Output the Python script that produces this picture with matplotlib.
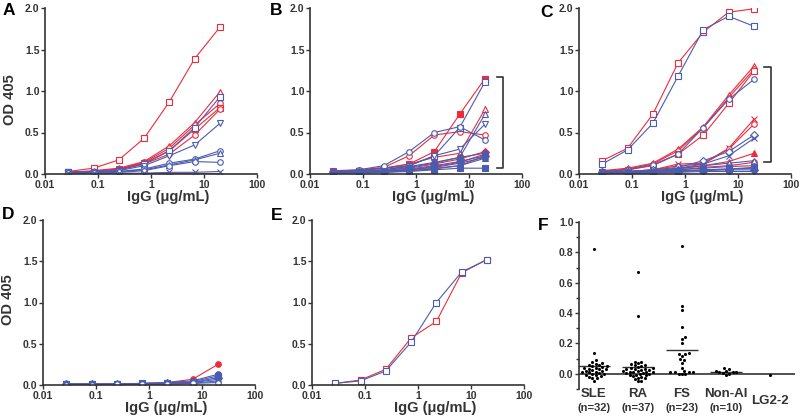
import numpy as np
import matplotlib
matplotlib.use("Agg")
import matplotlib.pyplot as plt
from matplotlib.ticker import FixedLocator, NullLocator
from matplotlib.transforms import blended_transform_factory

plt.rcParams["font.family"] = ["Liberation Sans", "DejaVu Sans"]
plt.rcParams["font.weight"] = "bold"

RED = "#ee2b3b"
BLUE = "#4a5cb0"
DARK = "#333333"

# 3-fold serial dilutions of IgG (ug/mL)
IGG = [0.0274, 0.0823, 0.247, 0.741, 2.22, 6.67, 20.0]

# (OD values, marker, filled)
A_RED = [
    ([0.03, 0.07, 0.17, 0.43, 0.87, 1.39, 1.77], "s", False),
    ([0.02, 0.04, 0.07, 0.15, 0.34, 0.62, 0.99], "^", False),
    ([0.02, 0.03, 0.06, 0.14, 0.31, 0.59, 0.85], "o", False),
    ([0.02, 0.03, 0.06, 0.13, 0.28, 0.54, 0.80], "s", False),
    ([0.02, 0.03, 0.05, 0.12, 0.24, 0.47, 0.78], "o", False),
    ([0.00, 0.00, 0.005, 0.005, 0.005, 0.005, 0.005], "", False),
]
A_BLUE = [
    ([0.02, 0.03, 0.05, 0.12, 0.28, 0.56, 0.93], "s", False),
    ([0.02, 0.03, 0.04, 0.10, 0.22, 0.35, 0.61], "v", False),
    ([0.01, 0.02, 0.03, 0.06, 0.13, 0.18, 0.28], "o", False),
    ([0.01, 0.02, 0.03, 0.05, 0.11, 0.17, 0.25], "^", False),
    ([0.01, 0.01, 0.02, 0.04, 0.10, 0.15, 0.14], "o", False),
    ([0.01, 0.01, 0.01, 0.01, 0.02, 0.02, 0.03], "x", False),
    ([0.005, 0.005, 0.005, 0.005, 0.005, 0.005, 0.005], "", False),
]

B_RED = [
    ([0.04, 0.04, 0.07, 0.12, 0.27, 0.72, 1.15], "s", True),
    ([0.03, 0.04, 0.07, 0.12, 0.20, 0.25, 0.78], "^", False),
    ([0.04, 0.05, 0.08, 0.22, 0.47, 0.51, 0.47], "o", False),
    ([0.02, 0.03, 0.04, 0.07, 0.12, 0.18, 0.27], "D", True),
    ([0.02, 0.02, 0.03, 0.05, 0.09, 0.14, 0.24], "o", True),
    ([0.01, 0.02, 0.03, 0.04, 0.07, 0.10, 0.22], "^", True),
]
B_BLUE = [
    ([0.03, 0.04, 0.07, 0.10, 0.22, 0.56, 1.11], "s", False),
    ([0.02, 0.03, 0.05, 0.09, 0.14, 0.20, 0.72], "^", False),
    ([0.02, 0.03, 0.05, 0.10, 0.22, 0.30, 0.60], "v", False),
    ([0.03, 0.05, 0.10, 0.27, 0.50, 0.57, 0.41], "o", False),
    ([0.02, 0.03, 0.04, 0.08, 0.13, 0.20, 0.25], "o", True),
    ([0.02, 0.02, 0.03, 0.06, 0.10, 0.15, 0.22], "D", True),
    ([0.01, 0.02, 0.03, 0.05, 0.08, 0.13, 0.20], "v", True),
    ([0.01, 0.02, 0.02, 0.04, 0.06, 0.10, 0.19], "^", True),
    ([0.01, 0.01, 0.02, 0.03, 0.05, 0.07, 0.07], "s", True),
]

C_RED = [
    ([0.16, 0.31, 0.72, 1.34, 1.71, 1.95, 1.99], "s", False),
    ([0.04, 0.07, 0.13, 0.30, 0.57, 0.95, 1.30], "^", False),
    ([0.03, 0.06, 0.12, 0.28, 0.56, 0.92, 1.26], "o", False),
    ([0.03, 0.05, 0.10, 0.24, 0.47, 0.85, 1.24], "s", False),
    ([0.02, 0.03, 0.05, 0.12, 0.13, 0.31, 0.66], "x", False),
    ([0.02, 0.03, 0.05, 0.10, 0.12, 0.30, 0.60], "o", False),
    ([0.01, 0.02, 0.03, 0.07, 0.10, 0.15, 0.25], "^", True),
    ([0.01, 0.02, 0.03, 0.05, 0.08, 0.10, 0.14], "o", True),
    ([0.01, 0.01, 0.02, 0.03, 0.05, 0.06, 0.08], "s", True),
]
C_BLUE = [
    ([0.12, 0.29, 0.61, 1.18, 1.74, 1.90, 1.78], "s", False),
    ([0.03, 0.05, 0.11, 0.24, 0.56, 0.90, 1.14], "o", False),
    ([0.02, 0.03, 0.05, 0.08, 0.16, 0.27, 0.47], "D", False),
    ([0.02, 0.03, 0.04, 0.07, 0.12, 0.22, 0.43], "x", False),
    ([0.02, 0.02, 0.04, 0.06, 0.10, 0.13, 0.16], "^", False),
    ([0.01, 0.02, 0.03, 0.05, 0.07, 0.09, 0.10], "o", True),
    ([0.01, 0.01, 0.02, 0.04, 0.05, 0.06, 0.07], "s", True),
    ([0.01, 0.01, 0.02, 0.03, 0.04, 0.05, 0.05], "D", True),
    ([0.01, 0.01, 0.01, 0.02, 0.03, 0.03, 0.03], "v", True),
]

D_RED = [
    ([0.01, 0.01, 0.01, 0.02, 0.03, 0.07, 0.25], "o", True),
]
D_BLUE = [
    ([0.01, 0.01, 0.01, 0.02, 0.03, 0.05, 0.13], "o", True),
    ([0.01, 0.01, 0.01, 0.02, 0.02, 0.04, 0.11], "s", True),
    ([0.01, 0.01, 0.01, 0.01, 0.02, 0.03, 0.09], "D", True),
    ([0.01, 0.01, 0.01, 0.01, 0.02, 0.03, 0.07], "^", True),
    ([0.01, 0.01, 0.01, 0.01, 0.01, 0.02, 0.05], "v", True),
    ([0.00, 0.00, 0.01, 0.01, 0.01, 0.02, 0.03], "o", False),
]

E_RED = [([0.02, 0.06, 0.19, 0.57, 0.77, 1.36, 1.52], "s", False)]
E_BLUE = [([0.02, 0.05, 0.17, 0.52, 1.00, 1.37, 1.52], "s", False)]

# bracket marking the responding subset: (x tick end, x spine, y low, y high)
B_BRACKET = (33.6, 43.6, 0.07, 1.17)
C_BRACKET = (30.9, 41.8, 0.145, 1.29)

# panel F: OD 405 at 20 ug/mL per donor group
F_GROUPS = ["SLE", "RA", "FS", "Non-AI", "LG2-2"]
F_NLABELS = ["(n=32)", "(n=37)", "(n=23)", "(n=10)", ""]
F_SLE = [0.825, 0.14, 0.09, 0.08, 0.07, 0.065, 0.06, 0.055, 0.05, 0.05, 0.045,
         0.04, 0.04, 0.035, 0.03, 0.03, 0.025, 0.02, 0.02, 0.015, 0.01, 0.01,
         0.005, 0.0, 0.0, -0.005, -0.01, -0.015, -0.02, -0.025, -0.03, -0.045]
F_RA = [0.67, 0.38, 0.08, 0.075, 0.07, 0.065, 0.06, 0.055, 0.05, 0.045, 0.04,
        0.04, 0.035, 0.03, 0.03, 0.025, 0.025, 0.02, 0.02, 0.015, 0.015, 0.01,
        0.01, 0.005, 0.005, 0.0, 0.0, -0.005, -0.01, -0.01, -0.015, -0.02,
        -0.025, -0.03, -0.035, -0.045, -0.05]
F_FS = [0.84, 0.45, 0.42, 0.31, 0.24, 0.23, 0.20, 0.14, 0.13, 0.13, 0.12, 0.10,
        0.09, 0.07, 0.04, 0.02, 0.01, 0.01, 0.01, 0.01, 0.0, 0.0, 0.0]
F_NONAI = [0.04, 0.03, 0.02, 0.02, 0.015, 0.01, 0.01, 0.005, 0.0, -0.005]
F_LG22 = [-0.01]

TICKS_X = [0.01, 0.1, 1, 10, 100]
TICKS_X_LAB = ["0.01", "0.1", "1", "10", "100"]
TICKS_Y = [0.0, 0.5, 1.0, 1.5, 2.0]


def draw_curves(ax, series, color):
    for vals, mk, filled in series:
        ax.plot(IGG, vals, color=color, lw=0.8, marker=mk or None, ms=4,
                mfc=color if filled else "white", mec=color, mew=0.8)


def style_curve_axes(ax):
    ax.set_xscale("log")
    ax.set_xlim(0.01, 100)
    ax.set_ylim(0, 2.0)
    ax.xaxis.set_major_locator(FixedLocator(TICKS_X))
    ax.xaxis.set_minor_locator(NullLocator())
    ax.set_xticklabels(TICKS_X_LAB)
    ax.set_yticks(TICKS_Y)
    ax.set_yticklabels([f"{v:.1f}" for v in TICKS_Y])
    for s in ("top", "right"):
        ax.spines[s].set_visible(False)
    for s in ("left", "bottom"):
        ax.spines[s].set_linewidth(1.2)
        ax.spines[s].set_color(DARK)
    ax.tick_params(direction="out", length=3, width=1.0, color=DARK,
                   labelsize=7.5, labelcolor=DARK, pad=1.0)
    ax.set_xlabel("IgG (\u03bcg/mL)", fontsize=10.5, fontweight="bold",
                  color=DARK)
    ax.xaxis.set_label_coords(0.58, -0.095)


def draw_bracket(ax, br):
    x0, x1, lo, hi = br
    ax.plot([x0, x1, x1, x0], [lo, lo, hi, hi], color=DARK, lw=1.2,
            clip_on=False)


def swarm(vals, d=3.3, xscale=44.0, yscale=152.0):
    """Greedy beeswarm offsets (category units) so dots do not overlap."""
    vals = np.asarray(vals, float)
    offs = np.zeros(vals.size)
    placed = []
    for i in np.argsort(vals):
        y = vals[i] * yscale
        cands = [0.0]
        for k in range(1, 60):
            cands += [k * d * 0.5, -k * d * 0.5]
        for x in cands:
            if all((x - px) ** 2 + (y - py) ** 2 >= d * d for px, py in placed):
                break
        placed.append((x, y))
        offs[i] = x / xscale
    return offs


fig = plt.figure(figsize=(8.0, 4.16), dpi=100)
W, H = 800.0, 416.0


def add_axes(left, top, bottom, right):
    return fig.add_axes([left / W, 1 - bottom / H, (right - left) / W,
                         (bottom - top) / H])


ax_a = add_axes(45, 8, 174, 257)
ax_b = add_axes(310, 8, 174, 522)
ax_c = add_axes(579, 8, 174, 791)
ax_d = add_axes(43, 220, 385, 255)
ax_e = add_axes(312, 220, 385, 524)
ax_f = add_axes(579, 222, 389, 795)

for ax, red, blue in [(ax_a, A_RED, A_BLUE), (ax_b, B_RED, B_BLUE),
                      (ax_c, C_RED, C_BLUE), (ax_d, D_RED, D_BLUE),
                      (ax_e, E_RED, E_BLUE)]:
    draw_curves(ax, red, RED)
    draw_curves(ax, blue, BLUE)
    style_curve_axes(ax)

draw_bracket(ax_b, B_BRACKET)
draw_bracket(ax_c, C_BRACKET)

for ax, ly in [(ax_a, 0.45), (ax_d, 0.52)]:
    ax.set_ylabel("OD 405", fontsize=10.5, fontweight="bold", color=DARK)
    ax.yaxis.set_label_coords(-0.132, ly)

# ── panel F: column scatter with means ──────────────────────────────────────
groups = [F_SLE, F_RA, F_FS, F_NONAI, F_LG22]
for pos, vals in enumerate(groups, start=1):
    xs = pos + swarm(vals)
    ax_f.scatter(xs, vals, s=5, color="black", zorder=3, linewidths=0)
    if len(vals) > 1:
        ax_f.hlines(np.mean(vals), pos - 0.36, pos + 0.36, color=DARK,
                    lw=1.0, zorder=2)
ax_f.axhline(0, color=DARK, lw=1.2, zorder=1)
ax_f.set_xlim(0.66, 5.57)
ax_f.set_ylim(-0.1, 1.0)
ax_f.set_yticks(np.arange(0, 1.01, 0.2))
ax_f.set_yticklabels([f"{v:.1f}" for v in np.arange(0, 1.01, 0.2)])
ax_f.yaxis.set_minor_locator(FixedLocator([-0.1, 0.1, 0.3, 0.5, 0.7, 0.9]))
ax_f.set_xticks([])
for s in ("top", "right", "bottom"):
    ax_f.spines[s].set_visible(False)
ax_f.spines["left"].set_linewidth(1.2)
ax_f.spines["left"].set_color(DARK)
ax_f.tick_params(axis="y", which="major", direction="out", length=3,
                 width=1.0, color=DARK, labelsize=7.5, labelcolor=DARK, pad=1.0)
ax_f.tick_params(axis="y", which="minor", direction="out", length=2,
                 width=1.0, color=DARK)
trans = blended_transform_factory(ax_f.transData, ax_f.transAxes)
for pos, (name, nlab) in enumerate(zip(F_GROUPS, F_NLABELS), start=1):
    if nlab:
        ax_f.text(pos, -0.03, name, transform=trans, ha="center", va="center",
                  fontsize=9.5, fontweight="bold", color=DARK)
        ax_f.text(pos, -0.115, nlab, transform=trans, ha="center",
                  va="center", fontsize=8, fontweight="bold", color=DARK)
    else:
        ax_f.text(pos, -0.07, name, transform=trans, ha="center", va="center",
                  fontsize=9.5, fontweight="bold", color=DARK)

# panel letters (left edge, baseline in pixels)
for letter, x, y in [("A", 3, 15), ("B", 270, 15), ("C", 540, 17),
                     ("D", 2, 219), ("E", 271, 220), ("F", 538, 230)]:
    fig.text(x / W, 1 - y / H, letter, ha="left", va="baseline",
             fontsize=12.5, fontweight="bold", color="black")

fig.savefig("out.png", dpi=100)
